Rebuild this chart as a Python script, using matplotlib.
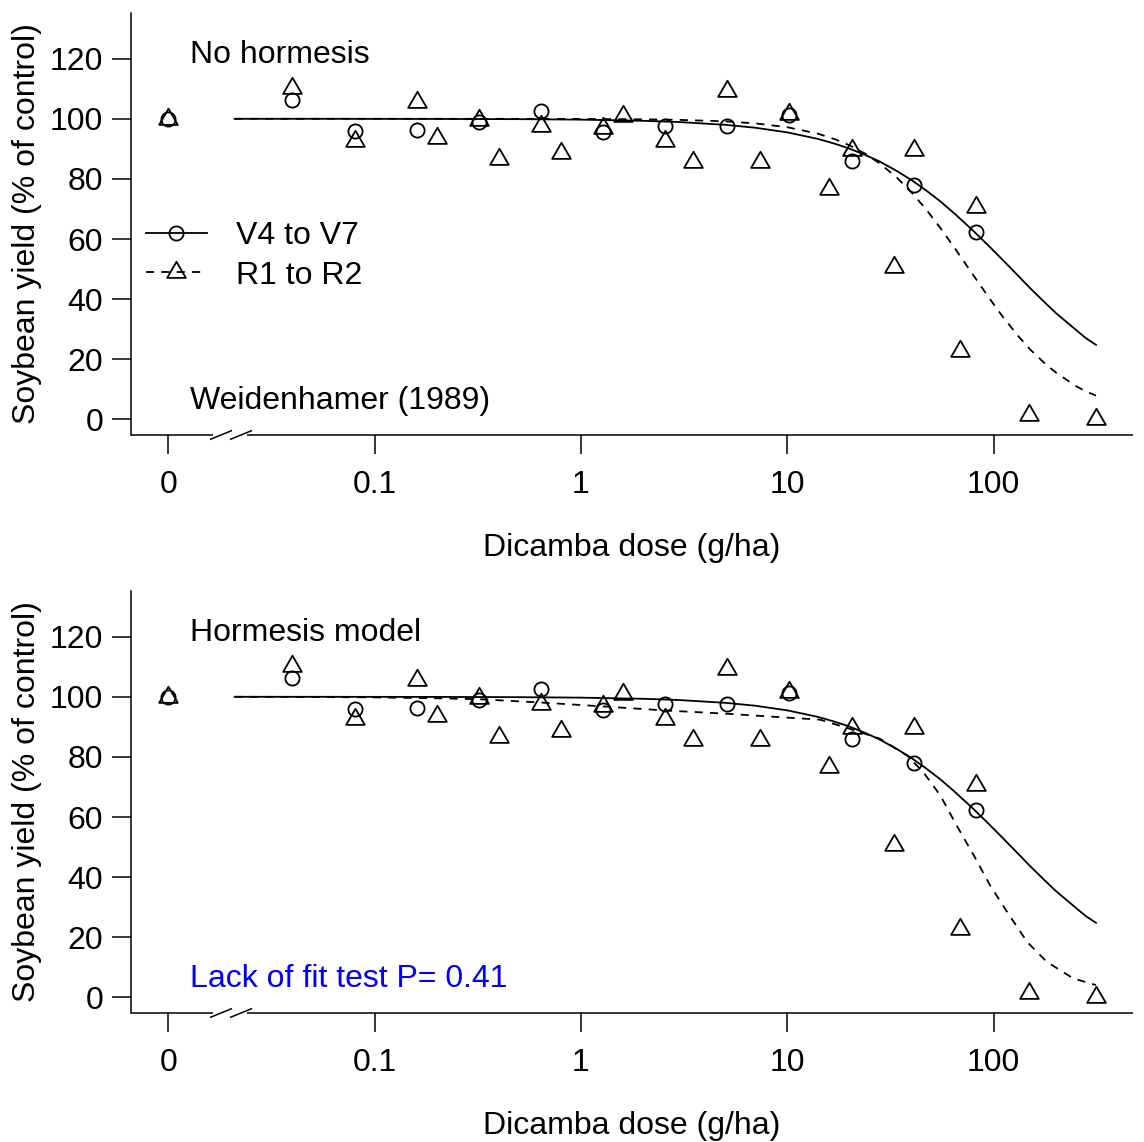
import numpy as np
import matplotlib
matplotlib.use("Agg")
import matplotlib.pyplot as plt
from matplotlib.lines import Line2D
from matplotlib.path import Path
from matplotlib.ticker import NullLocator

plt.rcParams['font.family'] = ['Liberation Sans', 'DejaVu Sans']

# ---------------- data ----------------
control_pos = 0.01  # where dose 0 is drawn on the log axis

v4v7_dose = [0, 0.04, 0.08, 0.16, 0.32, 0.64, 1.28, 2.56, 5.12, 10.24, 20.48, 40.96, 81.92]
v4v7_yield = [100, 106.4, 95.8, 96.4, 98.9, 102.6, 95.6, 97.5, 97.5, 101.2, 85.9, 77.9, 62.2]

r1r2_dose = [0, 0.04, 0.08, 0.16, 0.2, 0.32, 0.4, 0.64, 0.8, 1.28, 1.6, 2.56, 3.5,
             5.12, 7.4, 10.24, 16, 20.48, 33, 40.96, 69, 81.92, 148, 313]
r1r2_yield = [100, 110.2, 92.5, 105.5, 93.6, 99.5, 86.6, 97.5, 88.6, 96.9, 100.8, 92.5, 85.5,
              109.1, 85.5, 101.7, 76.7, 89.7, 50.7, 89.7, 22.7, 70.7, 1.6, 0]

# fitted curves
curve_dose = [0.021, 0.05, 0.1, 0.2, 0.5, 1, 2, 3, 5, 7, 10, 14, 17, 20, 24, 28, 34, 40,
              47, 55, 65, 80, 95, 110, 130, 150, 175, 200, 250, 280, 313]
nohorm_v4v7_fit = [100, 100, 99.98, 99.96, 99.88, 99.72, 99.34, 98.92, 98.0, 97.03,
                   95.48, 93.35, 91.7, 90.09, 87.9, 85.8, 82.6, 79.6, 76.2, 72.6,
                   68.3, 62.6, 57.6, 53.2, 48.1, 43.7, 39.2, 35.4, 29.8, 27.0, 24.8]
nohorm_r1r2_fit = [100, 100, 100, 100, 99.98, 99.95, 99.83, 99.65, 99.15, 98.48,
                   97.2, 95.1, 93.2, 91.2, 88.3, 85.2, 80.4, 75.5, 69.9, 63.8,
                   56.8, 47.8, 40.4, 34.4, 28.1, 23.3, 18.9, 15.6, 11.1, 9.3, 7.9]
horm_v4v7_fit = [100, 100, 99.98, 99.96, 99.88, 99.72, 99.34, 98.92, 98.0, 97.03,
                 95.48, 93.35, 91.7, 90.09, 87.9, 85.8, 82.6, 79.6, 76.2, 72.6,
                 68.3, 62.6, 57.6, 53.2, 48.1, 43.7, 39.2, 35.4, 29.8, 27.0, 24.8]
horm_dose = [0.021, 0.05, 0.1, 0.2, 0.32, 0.64, 1.28, 2.5, 5, 8.4, 14.4, 20, 28, 38, 45.5,
             55, 66, 80, 96, 116, 145, 181, 243, 313]
horm_r1r2_fit = [100, 99.95, 99.8, 99.5, 99.2, 98.1, 96.8, 95.5, 94.4, 93.4, 92.4, 89.4,
                 86.1, 80.5, 75.0, 67.3, 57.3, 47.3, 37.3, 28.5, 18.5, 11.8, 6.3, 4.1]

xtick_pos = [0.01, 0.1, 1, 10, 100]
xtick_labels = ["0", "0.1", "1", "10", "100"]
ytick_pos = [0, 20, 40, 60, 80, 100, 120]

series_labels = ["V4 to V7", "R1 to R2"]

# ---------------- style ----------------
FS = 23
LW = 1.3
tri_marker = Path([(-1, -0.57735), (1, -0.57735), (0, 1.1547), (-1, -0.57735)], closed=True)
circ_kw = dict(marker='o', ms=10.2, mfc='none', mec='black', mew=1.3, ls='none')
tri_kw = dict(marker=tri_marker, ms=15.5, mfc='none', mec='black', mew=1.3, ls='none')
dash = (0, (4.5, 4))


def xpos(doses):
    return [control_pos if d == 0 else d for d in doses]


def panel(ax, sx, sy, dx, dy, title, note, note_color):
    ax.set_xscale('log')
    ax.set_xlim(10 ** -2.18, 10 ** 2.675)
    ax.set_ylim(-5.2, 135.2)
    ax.plot(sx, sy, color='black', lw=LW, ls='-')
    ax.plot(dx, dy, color='black', lw=LW, ls=dash)
    ax.plot(xpos(v4v7_dose), v4v7_yield, **circ_kw)
    ax.plot(xpos(r1r2_dose), r1r2_yield, **tri_kw)

    for s in ['top', 'right', 'bottom']:
        ax.spines[s].set_visible(False)
    ax.spines['left'].set_linewidth(1.1)

    # bottom axis line with break
    g0, g1 = 0.0818, 0.1158
    kw = dict(transform=ax.transAxes, clip_on=False, color='black', lw=1.1,
              solid_capstyle='butt')
    ax.plot([0, g0], [0, 0], **kw)
    ax.plot([g1, 1], [0, 0], **kw)
    h = 0.0107
    ax.plot([0.0788, 0.1008], [-h, h], **kw)
    ax.plot([0.0988, 0.1208], [-h, h], **kw)

    ax.set_xticks(xtick_pos)
    ax.set_xticklabels(xtick_labels)
    ax.xaxis.set_minor_locator(NullLocator())
    ax.set_yticks(ytick_pos)
    ax.tick_params(axis='both', direction='out', length=13.5, width=1.1,
                   labelsize=FS, color='black')
    ax.tick_params(axis='x', pad=11.5)
    ax.tick_params(axis='y', pad=6.5)

    ax.set_xlabel("Dicamba dose (g/ha)", fontsize=FS)
    ax.set_ylabel("Soybean yield (% of control)", fontsize=FS)
    ax.xaxis.label.set_va('center')
    ax.yaxis.label.set_va('center')
    ax.xaxis.set_label_coords(0.5, -0.268)
    ax.yaxis.set_label_coords(-0.1035, 0.5)

    ax.text(0.0589, 0.9005, title, transform=ax.transAxes, fontsize=FS,
            ha='left', va='center')
    ax.text(0.0589, 0.0795, note, transform=ax.transAxes, fontsize=FS,
            ha='left', va='center', color=note_color)


fig = plt.figure(figsize=(11.44, 11.42), dpi=100)
ax1 = fig.add_axes([131 / 1144, 1 - 435 / 1142, 1002 / 1144, 422 / 1142])
ax2 = fig.add_axes([131 / 1144, 1 - 1013 / 1142, 1002 / 1144, 422 / 1142])

panel(ax1, curve_dose, nohorm_v4v7_fit, curve_dose, nohorm_r1r2_fit,
      "No hormesis", "Weidenhamer (1989)", 'black')
panel(ax2, curve_dose, horm_v4v7_fit, horm_dose, horm_r1r2_fit,
      "Hormesis model", "Lack of fit test P= 0.41", 'blue')

handles = [
    Line2D([], [], color='black', lw=LW, ls='-', marker='o', ms=10.2, mfc='none',
           mec='black', mew=1.3),
    Line2D([], [], color='black', lw=LW, ls=dash, marker=tri_marker, ms=15.5,
           mfc='none', mec='black', mew=1.3),
]
ax1.legend(handles, series_labels, loc='center left', bbox_to_anchor=(0.015, 0.4245),
           frameon=False, fontsize=FS, handlelength=1.9, handletextpad=0.92,
           labelspacing=0.3, borderpad=0, borderaxespad=0, numpoints=1)

fig.savefig("out.png", dpi=100)
